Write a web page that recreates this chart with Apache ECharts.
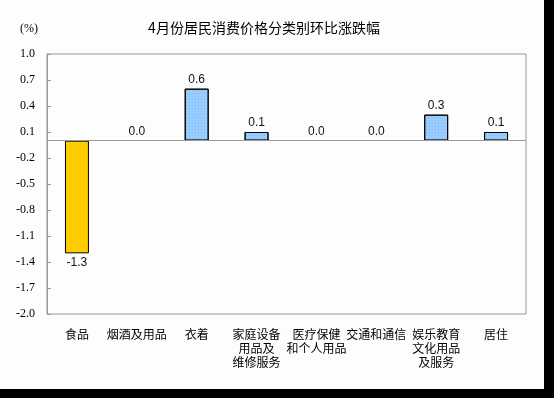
<!DOCTYPE html>
<html>
<head>
<meta charset="utf-8">
<script src="https://cdn.jsdelivr.net/npm/echarts@6/dist/echarts.min.js"></script>
<style>
  html, body { margin: 0; padding: 0; background: #000; }
  #chart { width: 554px; height: 398px; }
</style>
</head>
<body>
<div id="chart"></div>
<script>
const categories = [
  "食品",
  "烟酒及用品",
  "衣着",
  "家庭设备\n用品及\n维修服务",
  "医疗保健\n和个人用品",
  "交通和通信",
  "娱乐教育\n文化用品\n及服务",
  "居住",
];
const values = [-1.3, 0.0, 0.6, 0.1, 0.0, 0.0, 0.3, 0.1];
const barColors = ["#FFCC00", "#99CCFF", "#99CCFF", "#99CCFF", "#99CCFF", "#99CCFF", "#99CCFF", "#99CCFF"];
const yMin = -2.0;
const yMax = 1.0;
const yStep = 0.3;

const chart = echarts.init(document.getElementById("chart"));

// faint stipple like the original gif bars
const dots = {
  symbol: "rect",
  symbolSize: 1,
  color: "rgba(110, 150, 215, 0.45)",
  dashArrayX: [1, 2],
  dashArrayY: [1, 2],
  rotation: 0,
};

chart.setOption({
  backgroundColor: "#000",
  animation: false,
  graphic: [
    {
      type: "rect",
      shape: { x: 0, y: 0, width: 544, height: 389 },
      style: { fill: "#FCFDFC" },
      z: -10,
      silent: true,
    },
    {
      type: "text",
      left: 20,
      top: 23,
      style: { text: "(%)", font: "12px 'Liberation Serif'", fill: "#000" },
    },
  ],
  title: {
    text: "4月份居民消费价格分类别环比涨跌幅",
    left: 259,
    top: 16,
    textAlign: "center",
    textStyle: {
      fontFamily: "Noto Sans CJK SC",
      fontSize: 14,
      fontWeight: "normal",
      color: "#000",
    },
  },
  grid: {
    left: 47,
    right: 28,
    top: 54,
    bottom: 84,
    show: true,
    borderColor: "#999",
    borderWidth: 1,
    backgroundColor: "transparent",
  },
  xAxis: {
    type: "category",
    data: categories,
    axisLine: { show: false, onZero: false },
    axisTick: { show: false },
    axisLabel: {
      interval: 0,
      margin: 13,
      fontFamily: "Noto Sans CJK SC",
      fontSize: 12,
      lineHeight: 14,
      color: "#000",
    },
  },
  yAxis: {
    type: "value",
    min: yMin,
    max: yMax,
    interval: yStep,
    axisLine: { show: true, lineStyle: { color: "#999" } },
    axisTick: { show: true, inside: true, length: 4, lineStyle: { color: "#999" } },
    splitLine: { show: false },
    axisLabel: {
      margin: 12,
      fontFamily: "Liberation Serif",
      fontSize: 12,
      color: "#000",
      formatter: (v) => v.toFixed(1),
    },
  },
  series: [
    {
      type: "bar",
      barWidth: "40%",
      data: values.map((v, i) => ({
        value: v,
        itemStyle: {
          color: barColors[i],
          borderWidth: v === 0 ? 0 : 1,
          decal: i === 0 ? null : dots,
        },
        label: { position: v < 0 ? "bottom" : "top" },
      })),
      itemStyle: { borderColor: "#000", borderWidth: 1 },
      label: {
        show: true,
        distance: 3,
        fontFamily: "Liberation Sans",
        fontSize: 12,
        color: "#111",
        formatter: (p) => p.value.toFixed(1),
      },
      markLine: {
        silent: true,
        symbol: "none",
        label: { show: false },
        lineStyle: { color: "#999", type: "solid", width: 1 },
        data: [{ yAxis: 0 }],
      },
    },
  ],
});
</script>
</body>
</html>
